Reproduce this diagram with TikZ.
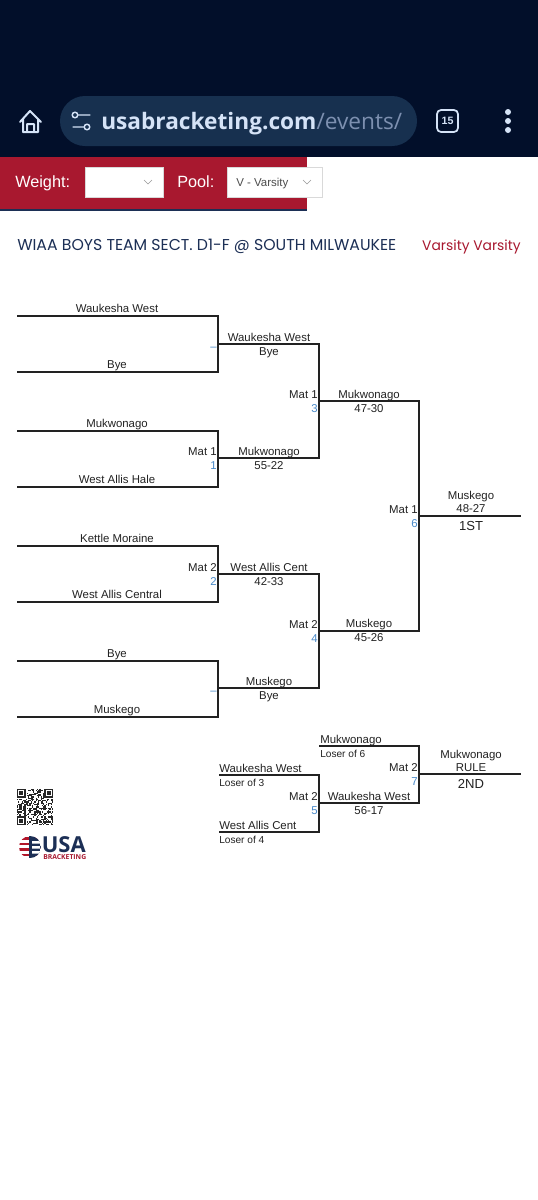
\documentclass[tikz,border=0pt]{standalone}
\usepackage{fontspec}
\setmainfont{Liberation Sans}
\newfontfamily\titlefont{Poppins}
\newfontfamily\urlfont{Open Sans}
\usetikzlibrary{positioning,calc}
\definecolor{barbg}{HTML}{020F2A}
\definecolor{pillbg}{HTML}{17304F}
\definecolor{urlfg}{HTML}{D5E3F7}
\definecolor{urldim}{HTML}{7D90B0}
\definecolor{wiaared}{HTML}{A8182F}
\definecolor{wiaanavy}{HTML}{1C2F55}
\definecolor{matblue}{HTML}{4A8AC9}
\definecolor{inkline}{HTML}{222222}

\begin{document}
\begin{tikzpicture}[
  x=0.75pt, y=-0.75pt,
  bracket/.style={draw=inkline, line width=0.95pt},
  team/.style={anchor=base, inner sep=0pt, text=inkline, font=\fontsize{8.55}{10}\selectfont},
  loser/.style={anchor=base west, inner sep=0pt, text=inkline, font=\fontsize{7.6}{9}\selectfont},
  place/.style={anchor=base, inner sep=0pt, text=inkline, font=\fontsize{9.8}{11}\selectfont},
  mat/.style={anchor=base east, inner sep=0pt, text=inkline, font=\fontsize{8.55}{10}\selectfont},
  matnum/.style={anchor=base east, inner sep=0pt, text=matblue, font=\fontsize{8.55}{10}\selectfont},
  selbox/.style={fill=white, draw=black!15, line width=0.4pt},
  chevron/.style={draw=black!40, line width=0.5pt},
  icon/.style={draw=urlfg, line width=1.5pt, line join=round, line cap=round},
  barlabel/.style={inner sep=0pt, text=white, font=\fontsize{12.2}{14}\selectfont},
]
\useasboundingbox (0,0) rectangle (538,1200);
\fill[white] (0,0) rectangle (538,1200);

% browser bar
\fill[barbg] (0,0) rectangle (538,157);
\fill[pillbg, rounded corners=25*0.75pt] (60,96) rectangle (417,146);
\draw[icon] (20,122) -- (30,111) -- (41,122) (23,119) -- (23,132) -- (38,132) -- (38,119)
  (27,132) -- (27,124) -- (34,124) -- (34,132);
\draw[icon, line width=1.1pt] (79,115) -- (90,115) (73,127) -- (83,127)
  (75,115) circle (2.8) (87,127) circle (2.8);
\begin{scope}
  \clip (95,100) rectangle (405,142);
  \node[anchor=base west, inner sep=0pt] (url) at (101,129)
    {\urlfont\fontsize{17}{20}\selectfont\bfseries\textcolor{urlfg}{usabracketing.com}\mdseries\textcolor{urldim}{/events/}};
\end{scope}
\draw[draw=urlfg, line width=1.3pt, rounded corners=3pt] (437,110) rectangle (458,132);
\node[inner sep=0pt, text=urlfg] (tabs) at (447.5,121) {\fontsize{8}{9}\selectfont\bfseries 15};
\foreach \y in {112,121,130}
  \fill[urlfg] (508,\y) circle (3);

% filter bar
\fill[wiaanavy] (0,157) rectangle (307,211);
\fill[wiaared] (0,157) rectangle (307,209);
\node[barlabel, anchor=base west] (weight) at (15,187) {Weight:};
\node[barlabel, anchor=base west] (pool) at (177,187) {Pool:};
\draw[selbox] (85,167) rectangle (163,197);
\draw[selbox] (227,167) rectangle (322,197);
\node[anchor=base west, inner sep=0pt, text=black!70, font=\fontsize{8.6}{10}\selectfont] (vsel) at (236,186) {V - Varsity};
\draw[chevron] (144,180) -- (148,184) -- (152,180);
\draw[chevron] (303,180) -- (307,184) -- (311,180);

% heading
\node[anchor=base west, inner sep=0pt, text=wiaanavy, font=\titlefont\fontsize{11.8}{13}\selectfont] (title) at (17,250)
  {WIAA BOYS TEAM SECT. D1-F @ SOUTH MILWAUKEE};
\node[anchor=base east, inner sep=0pt, text=wiaared, font=\titlefont\fontsize{10.4}{12}\selectfont] (class) at (521,250)
  {Varsity Varsity};

% bracket joints
\foreach \n/\x/\y in {s1/17/316, s2/17/372, s3/17/431, s4/17/487, s5/17/546, s6/17/602, s7/17/661, s8/17/717,
                      b1/218/344, m1/218/458, m2/218/574, b2/218/688,
                      m3/319/401, m4/319/631, m6/419/516, end1/521/516,
                      l1/219/775, l2/219/832, l3/319/746, m5/319/803, m7/419/774, end2/521/774}
  \coordinate (\n) at (\x,\y);

\foreach \a/\b in {s1/b1, s2/b1, s3/m1, s4/m1, s5/m2, s6/m2, s7/b2, s8/b2,
                   b1/m3, m1/m3, m2/m4, b2/m4, m3/m6, m4/m6,
                   l1/m5, l2/m5, l3/m7, m5/m7}
  \draw[bracket] (\a) -| (\b);
\draw[bracket] (m6) -- (end1);
\draw[bracket] (m7) -- (end2);

% team and score labels
\foreach \n/\x/\y/\t in {t1/117/312/Waukesha West, t2/117/368/Bye, t3/117/427/Mukwonago, t4/117/483/West Allis Hale,
                         t5/117/542/Kettle Moraine, t6/117/598/West Allis Central, t7/117/657/Bye, t8/117/713/Muskego,
                         u1/269/341/Waukesha West, v1/269/355/Bye, u2/269/455/Mukwonago, v2/269/469/55-22,
                         u3/269/571/West Allis Cent, v3/269/585/42-33, u4/269/685/Muskego, v4/269/699/Bye,
                         w1/369/398/Mukwonago, x1/369/412/47-30, w2/369/627/Muskego, x2/369/641/45-26,
                         y1/471/499/Muskego, z1/471/512/48-27,
                         w3/369/800/Waukesha West, x3/369/814/56-17, y2/471/758/Mukwonago, z2/471/771/RULE}
  \node[team] (\n) at (\x,\y) {\t};

\node[team, anchor=base west] (c1) at (219,772) {Waukesha West};
\node[team, anchor=base west] (c2) at (219,829) {West Allis Cent};
\node[team, anchor=base west] (c3) at (320,743) {Mukwonago};
\node[loser] (d1) at (219,786) {Loser of 3};
\node[loser] (d2) at (219,843) {Loser of 4};
\node[loser] (d3) at (320,757) {Loser of 6};
\node[place] (first) at (471,530) {1ST};
\node[place] (second) at (471,788) {2ND};

% mat labels
\foreach \m/\t/\k in {m1/1/1, m2/2/2, m3/1/3, m4/2/4, m5/2/5, m6/1/6, m7/2/7} {
  \node[mat] (lab\m) at ($(\m)+(-1,-3)$) {Mat \t};
  \node[matnum] (num\m) at ($(\m)+(-1,11)$) {\k};
}
\foreach \m in {b1,b2}
  \node[matnum] (num\m) at ($(\m)+(-1,6)$) {--};

% qr code
\pgfmathsetseed{4711}
\foreach \i in {0,...,28}
  \foreach \j in {0,...,28} {
    \pgfmathparse{rnd<0.5 ? 1 : 0}
    \ifnum\pgfmathresult=1
      \fill[black!85] ({17+\i*36/29},{789+\j*36/29}) rectangle ++(36/29,36/29);
    \fi
  }
\foreach \x/\y in {17/789, 44.3/789, 17/816.3} {
  \fill[white] (\x-0.5,\y-0.5) rectangle ++(10.2,10.2);
  \fill[black!85] (\x,\y) rectangle ++(8.7,8.7);
  \fill[white] (\x+1.24,\y+1.24) rectangle ++(6.2,6.2);
  \fill[black!85] (\x+2.48,\y+2.48) rectangle ++(3.72,3.72);
}

% logo
\begin{scope}
  \clip (30,847) circle (11);
  \fill[white] (19,836) rectangle (41,858);
  \foreach \y in {837,842.5,848,853.5}
    \fill[wiaared!90!red] (19,\y) rectangle (41,\y+2.8);
  \fill[wiaanavy] (29,836) rectangle (41,858);
  \fill[white] (32,841) rectangle (40,843.5) (32,846) rectangle (40,848.5) (32,851) rectangle (40,853.5);
\end{scope}
\node[anchor=base west, inner sep=0pt, text=wiaanavy] (logousa) at (41.5,852)
  {\urlfont\fontsize{16.5}{18}\selectfont\bfseries USA};
\node[anchor=base west, inner sep=0pt, text=wiaared] (logobrk) at (43,859.5)
  {\urlfont\fontsize{5.1}{6}\selectfont\bfseries BRACKETING};
\end{tikzpicture}
\end{document}
